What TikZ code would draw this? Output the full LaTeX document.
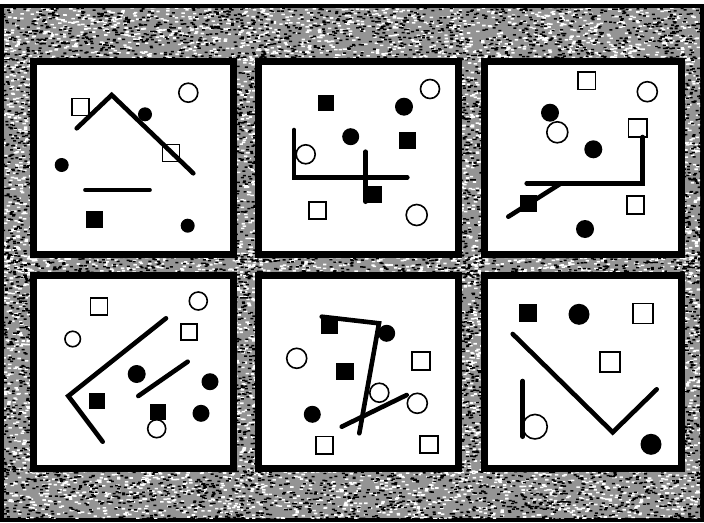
\documentclass[tikz,border=0pt]{standalone}
\definecolor{bggray}{gray}{0.58}
\newcommand\speckle[5]{%
  \fill[white] \foreach \i in {1,...,#5}{ ({#1+#3*rnd},{#2+#4*rnd}) rectangle ++(3.4,1.6) };
  \fill[black] \foreach \i in {1,...,#5}{ ({#1+#3*rnd},{#2+#4*rnd}) rectangle ++(3.0,1.5) };
}
\begin{document}
\begin{tikzpicture}[x=1pt,y=-1pt,
  frame/.style={draw=black, fill=bggray, line width=4pt},
  panel/.style={draw=black, fill=white, line width=7pt},
  bar/.style={line width=4.6pt, line cap=round, line join=miter},
  thinbar/.style={line width=3.6pt, line cap=round},
  osq/.style={draw, line width=1.6pt, minimum size=#1pt, inner sep=0pt, outer sep=0pt},
  osq/.default=17,
  fsq/.style={draw, fill=black, line width=0.8pt, minimum size=#1pt, inner sep=0pt, outer sep=0pt},
  fsq/.default=16,
  oc/.style={circle, draw, line width=1.6pt, minimum size=#1pt, inner sep=0pt, outer sep=0pt},
  oc/.default=19,
  fc/.style={circle, fill=black, minimum size=#1pt, inner sep=0pt, outer sep=0pt},
  fc/.default=14
]
\useasboundingbox (0,0) rectangle (704,522);
\fill[white] (0,0) rectangle (704,522);
\draw[frame] (2,6) rectangle (702,520);
% speckle texture of the scanned background
\pgfmathsetseed{11}
\begin{scope}
\clip (4,8) rectangle (700,518);
\speckle{2}{6}{240}{54}{450}
\speckle{240}{6}{240}{54}{450}
\speckle{480}{6}{222}{54}{420}
\speckle{2}{468}{240}{52}{420}
\speckle{240}{468}{240}{52}{420}
\speckle{480}{468}{222}{52}{400}
\speckle{2}{252}{350}{26}{330}
\speckle{350}{252}{352}{26}{330}
\speckle{2}{56}{32}{416}{480}
\speckle{682}{56}{20}{416}{300}
\speckle{232}{56}{28}{416}{420}
\speckle{456}{56}{30}{416}{450}
\end{scope}

% panels
\draw[panel] (33.5,61.5) rectangle (233.5,254.5);
\draw[panel] (258.5,61.5) rectangle (458.5,254.5);
\draw[panel] (484.5,61.5) rectangle (681.5,254.5);
\draw[panel] (33.5,275.5) rectangle (233.5,468.5);
\draw[panel] (258.5,275.5) rectangle (458.5,468.5);
\draw[panel] (484.5,275.5) rectangle (681.5,468.5);

% ---------- panel 1 ----------
\node[osq] (a1) at (80.5,107) {};
\node[oc] (a2) at (188.3,92.7) {};
\node[fc] (a3) at (145,114.3) {};
\node[osq] (a4) at (171,153) {};
\node[fc] (a5) at (61.7,165) {};
\node[fsq] (a6) at (94.7,219) {};
\node[fc] (a7) at (187.7,225.7) {};
\coordinate (a8) at (76.7,128.3);
\coordinate (a9) at (111.7,95);
\coordinate (a10) at (193.3,173.3);
\coordinate (a11) at (85,190);
\coordinate (a12) at (150,190);
\draw[bar] (a8) -- (a9) -- (a10);
\draw[thinbar] (a11) -- (a12);

% ---------- panel 2 ----------
\node[oc] (b1) at (430,89) {};
\node[fsq=15] (b2) at (325.5,103) {};
\node[fc=18] (b3) at (404,106.7) {};
\node[fc=17] (b4) at (350.7,136.7) {};
\node[fsq] (b5) at (407.5,140.5) {};
\node[oc] (b6) at (305.7,154.3) {};
\node[fsq] (b7) at (373.5,194.7) {};
\node[osq] (b8) at (317.7,210.5) {};
\node[oc=21] (b9) at (416.7,215) {};
\coordinate (b10) at (294,130);
\coordinate (b11) at (294,177.3);
\coordinate (b12) at (407.3,177.3);
\coordinate (b13) at (365.7,151.7);
\coordinate (b14) at (365.7,201.7);
\draw[bar] (b10) -- (b11) -- (b12);
\draw[bar] (b13) -- (b14);

% ---------- panel 3 ----------
\node[osq=17.5] (c1) at (586.7,80.8) {};
\node[oc=20] (c2) at (647.3,91.7) {};
\node[fc=18] (c3) at (550,112.7) {};
\node[oc=21] (c4) at (557.3,132.3) {};
\node[osq=18.5] (c5) at (637.8,128) {};
\node[fc=18] (c6) at (593.3,149.3) {};
\node[fsq] (c7) at (528,203.7) {};
\node[osq=17.5] (c8) at (635.5,205) {};
\node[fc=18] (c9) at (585,229) {};
\coordinate (c10) at (642.7,137);
\coordinate (c11) at (642.7,183.3);
\coordinate (c12) at (526.7,183.3);
\coordinate (c13) at (508.3,216.7);
\coordinate (c14) at (560,184);
\draw[bar] (c10) -- (c11) -- (c12);
\draw[bar] (c13) -- (c14);

% ---------- panel 4 ----------
\node[osq] (d1) at (98.8,306.7) {};
\node[oc=18] (d2) at (198.3,301) {};
\node[oc=15.5] (d3) at (72.7,339) {};
\node[osq=16] (d4) at (188.7,331.7) {};
\node[fc=18] (d5) at (136.7,374) {};
\node[fc=17] (d6) at (210,381.7) {};
\node[fsq=15] (d7) at (96.5,401) {};
\node[fsq=15] (d8) at (158,412) {};
\node[fc=17] (d9) at (201,413.3) {};
\node[oc=18] (d10) at (156.7,428.7) {};
\coordinate (d11) at (166,318.3);
\coordinate (d12) at (68.3,396);
\coordinate (d13) at (102.7,441.7);
\coordinate (d14) at (187.7,361.7);
\coordinate (d15) at (138.3,396);
\draw[bar] (d11) -- (d12) -- (d13);
\draw[bar] (d14) -- (d15);

% ---------- panel 5 ----------
\node[fsq=16] (e1) at (329,325) {};
\node[fc=17] (e2) at (386.7,333.3) {};
\node[oc=20] (e3) at (296.7,358.3) {};
\node[osq=18.5] (e4) at (421,361) {};
\node[fsq=16.5] (e5) at (345,371.3) {};
\node[oc=19] (e6) at (379.3,392.7) {};
\node[oc=20] (e7) at (417.3,403.3) {};
\node[fc=17] (e8) at (312.3,414.3) {};
\node[osq=17.5] (e9) at (324.5,445.3) {};
\node[osq=17.5] (e10) at (429,444.5) {};
\coordinate (e11) at (321.7,316.7);
\coordinate (e12) at (379,323.3);
\coordinate (e13) at (359.3,433.3);
\coordinate (e14) at (341.7,426.7);
\coordinate (e15) at (406.7,395);
\draw[bar] (e11) -- (e12) -- (e13);
\draw[bar] (e14) -- (e15);

% ---------- panel 6 ----------
\node[fsq=17] (f1) at (527.5,312.7) {};
\node[fc=21] (f2) at (579,314.3) {};
\node[osq=20] (f3) at (642.7,313.3) {};
\node[osq=20] (f4) at (610,361.7) {};
\node[oc=24.5] (f5) at (535,426.7) {};
\node[fc=21] (f6) at (651,444.3) {};
\coordinate (f7) at (512.7,334);
\coordinate (f8) at (612.7,432.3);
\coordinate (f9) at (656.7,389.3);
\coordinate (f10) at (522.7,381);
\coordinate (f11) at (522.7,436.7);
\draw[bar] (f7) -- (f8) -- (f9);
\draw[bar] (f10) -- (f11);
\end{tikzpicture}
\end{document}
